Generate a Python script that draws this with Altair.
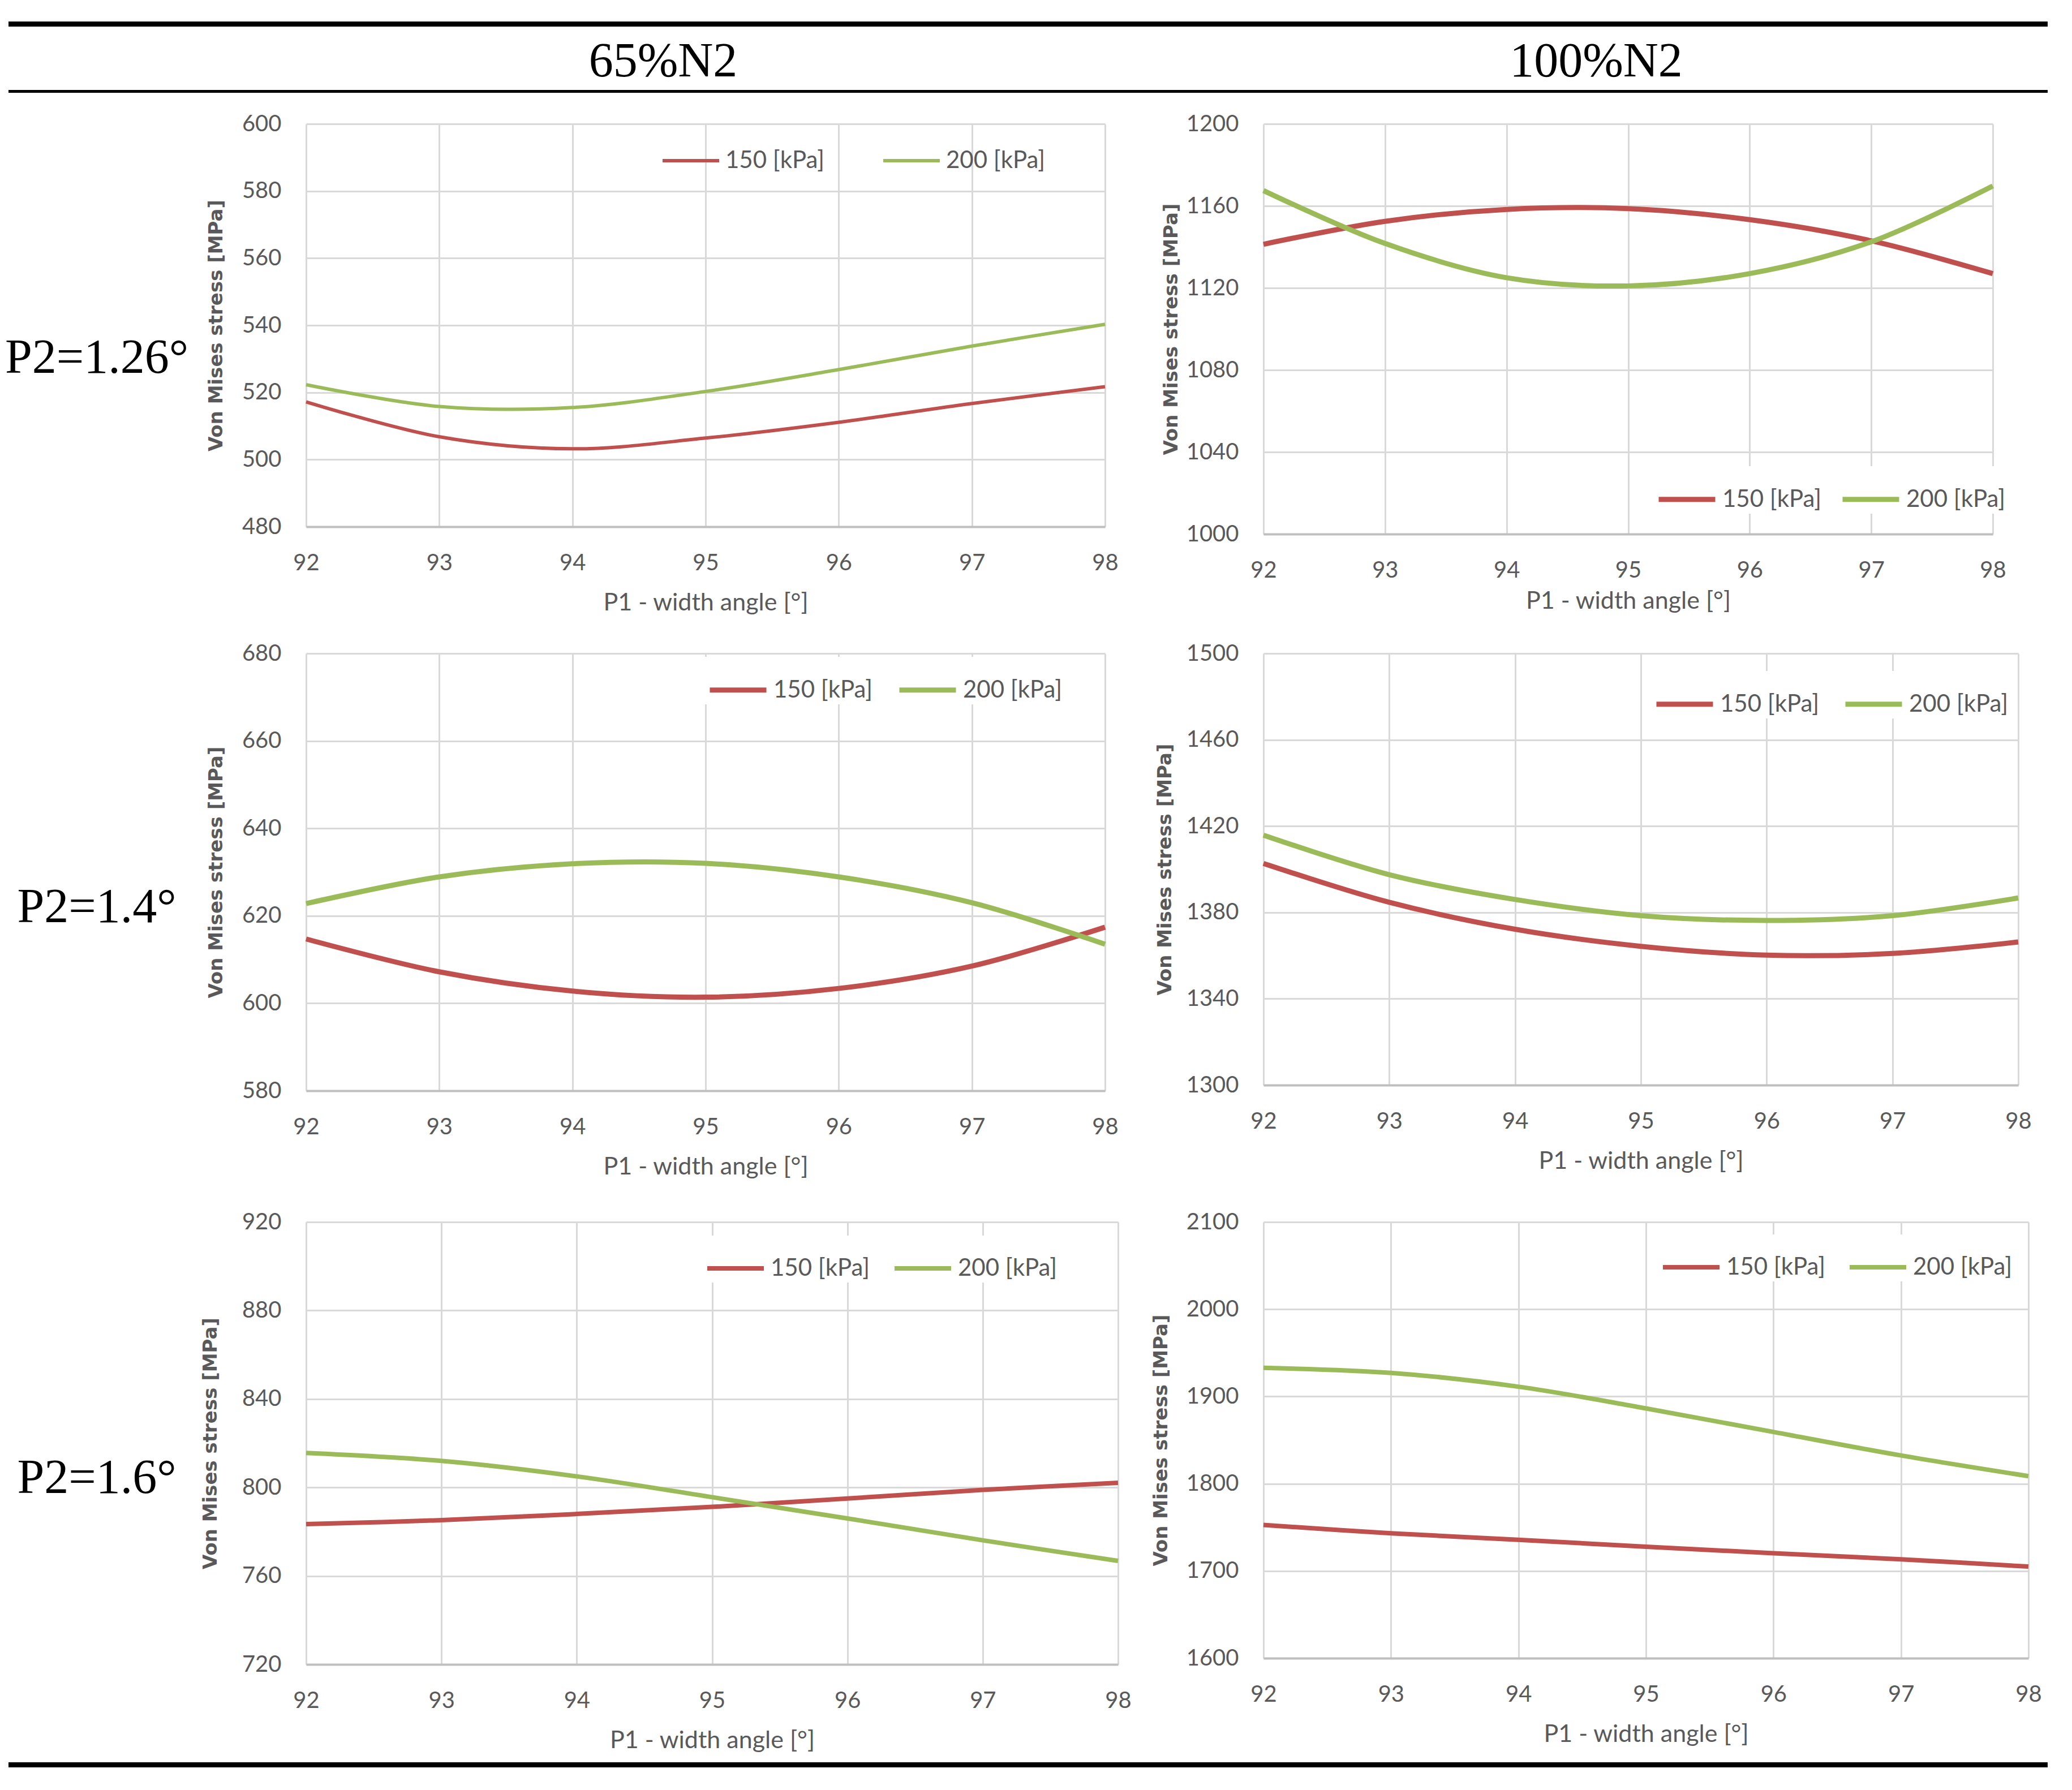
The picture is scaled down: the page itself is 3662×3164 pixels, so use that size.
import pandas as pd
import altair as alt

# x values shared by every panel
angles = [92, 93, 94, 95, 96, 97, 98]
series_names = ["150 [kPa]", "200 [kPa]"]
series_colors = ["#C0504D", "#9BBB59"]
column_titles = ["65%N2", "100%N2"]
row_titles = ["P2=1.26°", "P2=1.4°", "P2=1.6°"]
x_title = "P1 - width angle [°]"
y_title = "Von Mises stress [MPa]"

# P2 = 1.26°
s126_65_150 = [517.2, 506.8, 503.2, 506.4, 511.1, 516.7, 521.7]
s126_65_200 = [522.3, 515.8, 515.5, 520.3, 526.8, 533.8, 540.3]
s126_100_150 = [1141.3, 1152.5, 1158.3, 1158.7, 1153.3, 1143.0, 1127.0]
s126_100_200 = [1167.5, 1141.7, 1125.0, 1121.0, 1127.0, 1142.5, 1169.7]
# P2 = 1.4°
s14_65_150 = [614.7, 607.2, 602.8, 601.4, 603.4, 608.5, 617.4]
s14_65_200 = [622.8, 628.9, 631.9, 632.0, 628.9, 623.0, 613.5]
s14_100_150 = [1402.7, 1384.7, 1372.2, 1364.3, 1360.2, 1361.0, 1366.3]
s14_100_200 = [1415.8, 1397.5, 1386.0, 1378.5, 1376.3, 1378.5, 1386.7]
# P2 = 1.6°
s16_65_150 = [783.4, 785.2, 788.0, 791.2, 795.0, 798.9, 802.1]
s16_65_200 = [815.6, 812.0, 805.0, 795.6, 786.0, 776.1, 766.8]
s16_100_150 = [1752.7, 1743.2, 1735.7, 1727.8, 1720.3, 1713.3, 1705.0]
s16_100_200 = [1932.8, 1927.0, 1911.2, 1886.3, 1859.3, 1832.4, 1808.7]

# y tick labels per panel
yt_126_65 = [480, 500, 520, 540, 560, 580, 600]
yt_126_100 = [1000, 1040, 1080, 1120, 1160, 1200]
yt_14_65 = [580, 600, 620, 640, 660, 680]
yt_14_100 = [1300, 1340, 1380, 1420, 1460, 1500]
yt_16_65 = [720, 760, 800, 840, 880, 920]
yt_16_100 = [1600, 1700, 1800, 1900, 2000, 2100]

GREY = "#595959"
SANS = "Lato"
SERIF = "Liberation Serif"
FULL_W = 3604

one = pd.DataFrame({"k": [0]})


def blank(w, h):
    return alt.Chart(one).mark_text(text=" ", fontSize=1).encode(
        x=alt.value(0), y=alt.value(0)
    ).properties(width=w, height=h)


def hrule(y, thick):
    return alt.Chart(one).mark_rule(color="black", strokeWidth=thick).encode(
        x=alt.value(0), x2=alt.value(FULL_W), y=alt.value(y)
    )


def label(txt, y, w, h):
    return alt.Chart(one).mark_text(
        font=SERIF, fontSize=86, align="center", baseline="middle", color="black"
    ).encode(
        x=alt.value(156), y=alt.value(y), text=alt.value(txt)
    ).properties(width=w, height=h)


def panel(v150, v200, yticks, w, h, sw, title_x, leg_x, leg_y, col_pad,
          boxed=True, x_title_y=134):
    df = pd.DataFrame({
        "angle": angles + angles,
        "stress": v150 + v200,
        "series": [series_names[0]] * len(angles) + [series_names[1]] * len(angles),
    })
    leg = dict(
        title=None, orient="none", legendX=leg_x, legendY=leg_y,
        direction="horizontal", symbolType="stroke", symbolSize=10000,
        symbolStrokeWidth=sw, labelFont=SANS, labelFontSize=42,
        labelColor=GREY, labelLimit=400, labelOffset=8, columnPadding=col_pad,
    )
    if boxed:
        leg.update(fillColor="white", padding=4)
    else:
        leg.update(padding=0)
    return alt.Chart(df).mark_line(interpolate="catmull-rom", strokeWidth=sw).encode(
        x=alt.X("angle:Q",
                scale=alt.Scale(domain=[angles[0], angles[-1]], nice=False, zero=False),
                axis=alt.Axis(values=angles, title=x_title, format="d",
                              labelPadding=44, labelFlush=False,
                              titleY=x_title_y)),
        y=alt.Y("stress:Q",
                scale=alt.Scale(domain=[yticks[0], yticks[-1]], nice=False, zero=False),
                axis=alt.Axis(values=yticks, title=y_title, format="d",
                              labelPadding=44, titleX=title_x)),
        color=alt.Color("series:N",
                        scale=alt.Scale(domain=series_names, range=series_colors),
                        legend=alt.Legend(**leg)),
    ).properties(width=w, height=h)


def header_text(txt, x):
    return alt.Chart(one).mark_text(
        font=SERIF, fontSize=86, align="center", baseline="alphabetic", color="black"
    ).encode(x=alt.value(x), y=alt.value(97), text=alt.value(txt))


header = alt.layer(
    hrule(4.5, 9),
    hrule(123.5, 5),
    header_text(column_titles[0], 1157),
    header_text(column_titles[1], 2806),
).properties(width=1, height=181)

footer = hrule(177.5, 9).properties(width=1, height=182)

p1 = panel(s126_65_150, s126_65_200, yt_126_65, 1412, 712, 6, -159, 627, 12, 91, boxed=False)
p2 = panel(s126_100_150, s126_100_200, yt_126_100, 1289, 725, 9, -163, 690, 605, 18,
           x_title_y=118)
p3 = panel(s14_65_150, s14_65_200, yt_14_65, 1412, 773, 9, -159, 705, 6, 28)
p4 = panel(s14_100_150, s14_100_200, yt_14_100, 1334, 763, 9, -174, 686, 31, 27)
p5 = panel(s16_65_150, s16_65_200, yt_16_65, 1435, 782, 8, -169, 701, 24, 27)
p6 = panel(s16_100_150, s16_100_200, yt_16_100, 1352, 771, 8, -181, 698, 22, 26)

cells = [
    header, blank(1, 1), blank(1, 1), blank(1, 1),
    label(row_titles[0], 414, 526, 725), p1, blank(257, 1), p2,
    blank(1, 211), blank(1, 1), blank(1, 1), blank(1, 1),
    label(row_titles[1], 449, 526, 773), p3, blank(257, 1), p4,
    blank(1, 232), blank(1, 1), blank(1, 1), blank(1, 1),
    label(row_titles[2], 453, 526, 782), p5, blank(257, 1), p6,
    footer, blank(1, 1), blank(1, 1), blank(1, 1),
]

chart = alt.ConcatChart(
    concat=cells, columns=4, spacing=0, bounds="flush", align="each",
    padding={"left": 0, "top": 29, "right": 0, "bottom": 0},
).resolve_scale(
    color="independent"
).resolve_legend(
    color="independent"
).configure_view(
    strokeWidth=0
).configure_axis(
    grid=True, gridColor="#D9D9D9", gridWidth=3, ticks=False, domain=False,
    labelFont=SANS, labelFontSize=40, labelColor=GREY,
).configure_axisX(
    domain=True, domainColor="#BFBFBF", domainWidth=4,
    titleFont=SANS, titleFontSize=43, titleFontWeight="normal",
    titleColor=GREY, titleBaseline="middle",
).configure_axisY(
    titleFont="DejaVu Sans", titleFontSize=34, titleFontWeight="bold",
    titleColor=GREY, titleBaseline="middle",
)

chart.save("out.html", embed_options={"renderer": "svg", "actions": False})
